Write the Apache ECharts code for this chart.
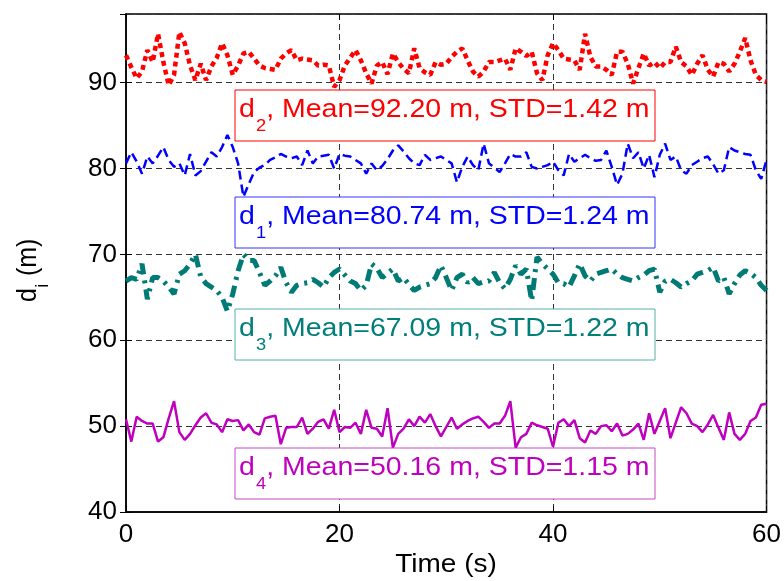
<!DOCTYPE html>
<html>
<head>
<meta charset="utf-8">
<style>
  html, body { margin: 0; padding: 0; background: #fff; }
  #chart { width: 784px; height: 581px; }
</style>
<script src="https://cdn.jsdelivr.net/npm/echarts@6/dist/echarts.min.js"></script>
</head>
<body>
<div id="chart"></div>
<script>
// sampling step of the recordings (s)
var step = 0.5;

// d2 (red, dotted)
var d2 = [93.2, 91.8, 90.5, 91.3, 93.8, 92.4, 95.7, 92.4, 89.7, 90.9,
  95.9, 94.6, 92.0, 90.3, 92.2, 90.3, 91.9, 92.9, 94.6, 93.2,
  90.9, 92.0, 93.4, 93.6, 92.8, 92.0, 91.7, 91.6, 91.5, 92.8,
  93.4, 93.8, 92.6, 92.8, 92.7, 92.6, 92.0, 92.1, 92.0, 89.5,
  90.3, 92.0, 92.9, 93.8, 92.6, 91.1, 89.9, 92.0, 92.4, 91.0,
  93.4, 92.4, 91.6, 91.1, 94.0, 91.7, 91.2, 90.9, 92.4, 92.1,
  92.2, 93.0, 93.6, 94.0, 92.6, 91.3, 90.7, 91.3, 92.4, 92.4,
  92.6, 92.8, 91.5, 94.0, 93.6, 93.1, 93.6, 91.1, 90.3, 93.2,
  94.6, 93.8, 92.8, 92.7, 92.6, 91.5, 95.7, 93.0, 91.9, 91.9,
  91.5, 90.9, 93.6, 93.6, 92.2, 89.9, 91.7, 93.4, 92.0, 92.4,
  91.7, 92.4, 92.4, 94.2, 92.4, 91.9, 90.9, 92.2, 93.2, 91.5,
  90.7, 92.4, 92.2, 91.3, 92.2, 93.6, 95.2, 92.6, 90.9, 90.3, 90.1];

// d1 (blue, dashed)
var d1 = [80.6, 81.9, 80.8, 79.4, 81.4, 80.6, 81.5, 82.5, 81.0, 80.2,
  80.6, 79.2, 81.7, 79.2, 79.7, 80.8, 81.9, 81.4, 82.5, 83.9,
  82.5, 80.6, 76.7, 78.2, 79.6, 80.1, 80.4, 81.0, 81.3, 81.7,
  81.4, 81.2, 81.4, 80.4, 82.1, 80.6, 81.4, 81.5, 81.6, 80.0,
  81.7, 81.5, 81.4, 81.0, 80.6, 79.4, 80.6, 79.8, 80.3, 81.1,
  82.1, 82.7, 82.0, 81.2, 80.6, 80.4, 81.6, 81.0, 81.2, 81.4,
  81.0, 80.6, 78.4, 80.2, 81.4, 80.4, 79.8, 82.9, 80.6, 80.1,
  79.6, 80.6, 81.7, 81.4, 81.4, 81.9, 80.2, 80.0, 80.2, 80.4,
  80.8, 79.8, 79.2, 81.7, 80.8, 81.2, 81.6, 81.2, 80.9, 81.0,
  82.1, 80.2, 78.1, 79.4, 82.9, 81.2, 81.9, 80.0, 81.6, 79.0,
  81.6, 82.9, 81.0, 81.4, 79.8, 79.4, 80.4, 80.8, 81.2, 81.4,
  80.5, 79.4, 79.8, 82.5, 82.1, 81.9, 81.7, 81.6, 79.8, 78.8, 81.0];

// d3 (teal, dash-dot)
var d3 = [66.9, 67.3, 67.1, 68.9, 64.8, 67.3, 67.3, 66.9, 66.2, 65.4,
  67.7, 68.1, 68.9, 70.0, 67.4, 66.6, 66.2, 65.8, 65.0, 63.4,
  65.4, 68.1, 70.0, 69.3, 69.3, 67.9, 66.4, 66.9, 67.5, 68.5,
  66.7, 65.6, 66.4, 66.6, 66.7, 67.1, 66.7, 66.2, 67.3, 67.9,
  68.3, 67.6, 66.9, 66.6, 65.8, 66.4, 68.9, 68.4, 67.3, 67.8,
  68.3, 66.9, 67.3, 66.5, 65.8, 66.2, 66.4, 66.6, 67.3, 68.7,
  67.3, 65.8, 67.3, 67.7, 66.7, 67.3, 66.6, 66.8, 66.9, 67.9,
  66.7, 66.0, 67.1, 68.7, 67.7, 68.3, 64.6, 69.7, 68.9, 68.3,
  67.7, 66.7, 66.6, 66.2, 67.5, 68.9, 67.5, 66.9, 67.7, 67.9,
  68.1, 68.3, 67.7, 67.3, 67.1, 66.9, 67.3, 67.6, 68.1, 68.3,
  65.6, 66.9, 67.1, 66.7, 66.2, 66.6, 66.9, 67.7, 67.9, 68.1,
  68.5, 66.9, 67.3, 65.4, 66.6, 67.6, 68.1, 67.8, 67.3, 66.4, 65.8];

// d4 (magenta, solid)
var d4 = [50.8, 48.2, 51.1, 50.6, 50.3, 50.3, 48.2, 48.7, 50.9, 52.9,
  49.3, 48.4, 49.1, 50.1, 51.0, 51.5, 50.4, 50.2, 49.3, 50.8,
  50.6, 50.7, 49.5, 50.2, 49.3, 49.0, 50.9, 51.1, 51.2, 47.9,
  49.8, 49.9, 49.9, 51.0, 49.1, 49.7, 50.5, 50.8, 49.7, 51.9,
  49.3, 49.9, 49.8, 50.4, 49.1, 51.9, 49.8, 49.7, 48.8, 52.1,
  47.5, 49.1, 49.7, 50.8, 50.0, 51.1, 50.4, 51.4, 50.0, 48.8,
  49.9, 51.0, 49.7, 50.2, 50.6, 50.9, 51.1, 50.5, 49.8, 50.3,
  50.3, 51.2, 52.9, 47.5, 48.7, 49.1, 50.4, 50.1, 49.9, 49.7,
  47.6, 50.4, 50.8, 50.0, 50.7, 48.6, 48.1, 49.5, 49.1, 50.0,
  50.1, 49.4, 50.3, 48.9, 49.1, 49.6, 50.3, 48.4, 51.5, 49.1,
  50.6, 52.1, 48.6, 50.4, 52.2, 51.5, 50.3, 50.0, 49.3, 50.2,
  51.3, 49.8, 48.4, 51.6, 49.1, 48.4, 49.1, 50.6, 51.0, 52.5, 52.6];

var subs = ["2", "1", "3", "4"];
var means = ["92.20", "80.74", "67.09", "50.16"];
var stds = ["1.42", "1.24", "1.22", "1.15"];
var xTicks = [0, 20, 40, 60];
var yTicks = [40, 50, 60, 70, 80, 90];

var textColors = ["#ff0000", "#0000ff", "#007f7a", "#bf00bf"];
var boxColors = ["#ff0000", "#3333ff", "#5aaea8", "#c24cc2"];
var boxTops = [90, 197, 309, 448];

function pairs(arr) {
  return arr.map(function (v, i) { return [i * step, v]; });
}

function annotation(k) {
  var top = boxTops[k];
  var c = textColors[k];
  return {
    type: "group",
    children: [
      {
        type: "rect", z: 1,
        shape: { x: 235, y: top, width: 420, height: 51 },
        style: { fill: "#fff", stroke: boxColors[k], lineWidth: 1 }
      },
      {
        type: "group", x: 239, y: top, scaleX: 1.14, z: 1,
        children: [
          { type: "text", z: 1, x: 0, y: 20,
            style: { text: "d", fill: c, font: "25px 'Liberation Sans', Arial", textVerticalAlign: "middle" } },
          { type: "text", z: 1, x: 14.9, y: 37,
            style: { text: subs[k], fill: c, font: "16px 'Liberation Sans', Arial", textVerticalAlign: "middle" } },
          { type: "text", z: 1, x: 23.8, y: 20,
            style: { text: ", Mean=" + means[k] + " m, STD=" + stds[k] + " m", fill: c,
              font: "25px 'Liberation Sans', Arial", textVerticalAlign: "middle" } }
        ]
      }
    ]
  };
}

var chart = echarts.init(document.getElementById("chart"));

var gridDash = { color: "#333", width: 1, type: [6, 4] };
var labelFont = { color: "#000", fontSize: 26, fontFamily: "'Liberation Sans', Arial" };

chart.setOption({
  animation: false,
  grid: {
    left: 126, right: 17, top: 14, bottom: 69,
    show: true, borderColor: "#000", borderWidth: 1.5, backgroundColor: "#fff"
  },
  xAxis: [
    {
      type: "value", min: 0, max: 60, interval: 20,
      axisLine: { show: true, lineStyle: { color: "#000", width: 1.5 } },
      axisTick: { inside: true, length: 6, lineStyle: { color: "#000" } },
      axisLabel: Object.assign({ margin: 10 }, labelFont),
      splitLine: { show: true, lineStyle: gridDash }
    },
    {
      type: "value", min: 0, max: 60, interval: 20, position: "top",
      axisLine: { show: false },
      axisTick: { inside: true, length: 6, lineStyle: { color: "#000" } },
      axisLabel: { show: false },
      splitLine: { show: false }
    }
  ],
  yAxis: [
    {
      type: "value", min: 40, max: 98, interval: 10,
      axisLine: { show: true, lineStyle: { color: "#000", width: 1.5 } },
      axisTick: { inside: true, length: 6, lineStyle: { color: "#000" } },
      axisLabel: Object.assign({
        margin: 9,
        showMaxLabel: false,
        formatter: function (v) { return yTicks.indexOf(v) >= 0 ? String(v) : ""; }
      }, labelFont),
      splitLine: { show: true, lineStyle: gridDash }
    },
    {
      type: "value", min: 40, max: 98, interval: 10, position: "right",
      axisLine: { show: false },
      axisTick: { inside: true, length: 6, lineStyle: { color: "#000" } },
      axisLabel: { show: false },
      splitLine: { show: false }
    }
  ],
  series: [
    {
      name: "d2", type: "line", data: pairs(d2), symbol: "none", z: 3,
      lineStyle: { color: "#ff0000", width: 4.5, type: [5, 4], cap: "butt" }
    },
    {
      name: "d1", type: "line", data: pairs(d1), symbol: "none", z: 3,
      lineStyle: { color: "#0000ff", width: 2.5, type: [9, 5] }
    },
    {
      name: "d3", type: "line", data: pairs(d3), symbol: "none", z: 3,
      lineStyle: { color: "#007a74", width: 5, type: [12, 6, 3, 6] }
    },
    {
      name: "d4", type: "line", data: pairs(d4), symbol: "none", z: 3,
      lineStyle: { color: "#bf00bf", width: 2.5 }
    }
  ],
  graphic: [
    annotation(0), annotation(1), annotation(2), annotation(3),
    {
      type: "text", x: 446, y: 565, scaleX: 1.12,
      style: { text: "Time (s)", fill: "#000", font: "25px 'Liberation Sans', Arial",
        textAlign: "center", textVerticalAlign: "middle" }
    },
    {
      type: "group", x: 37, y: 302, rotation: Math.PI / 2, scaleY: 1.1,
      children: [
        { type: "text", x: 0, y: -8,
          style: { text: "d", fill: "#000", font: "25px 'Liberation Sans', Arial", textVerticalAlign: "middle" } },
        { type: "text", x: 14.5, y: 6,
          style: { text: "i", fill: "#000", font: "16px 'Liberation Sans', Arial", textVerticalAlign: "middle" } },
        { type: "text", x: 19, y: -8,
          style: { text: " (m)", fill: "#000", font: "25px 'Liberation Sans', Arial", textVerticalAlign: "middle" } }
      ]
    }
  ]
});
</script>
</body>
</html>
